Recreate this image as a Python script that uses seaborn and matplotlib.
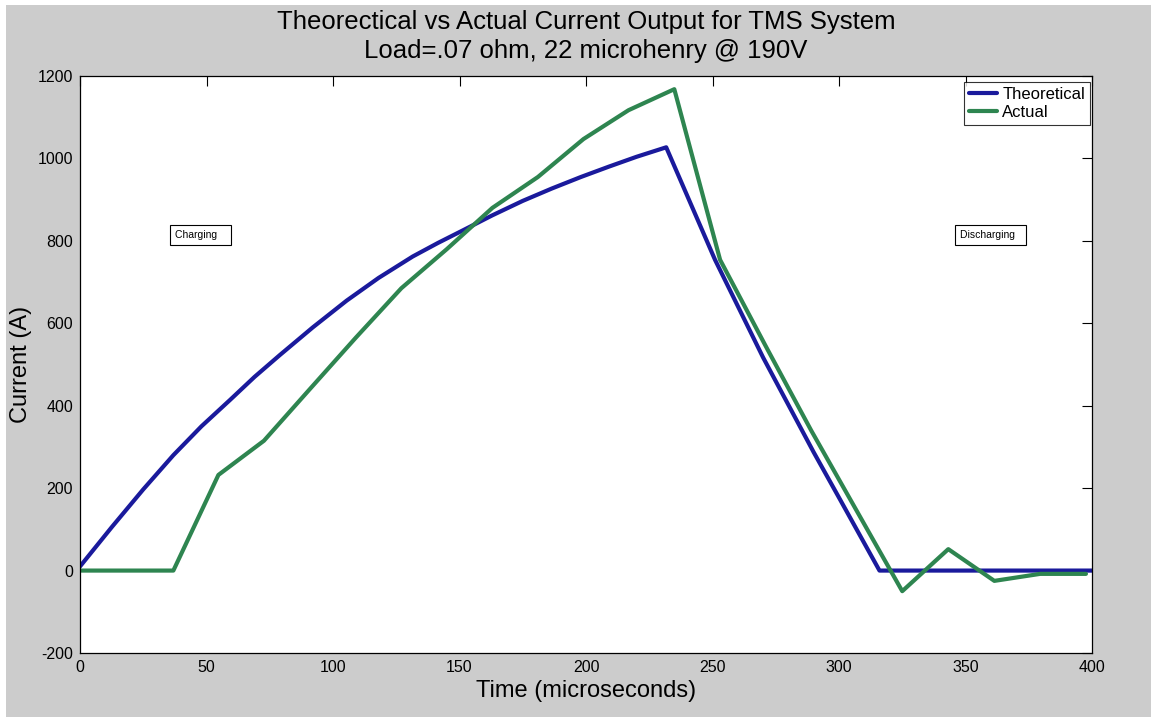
import matplotlib
matplotlib.use("Agg")
import matplotlib.pyplot as plt
from matplotlib.patches import Rectangle
import seaborn as sns
import pandas as pd

# Theoretical RL charging / discharging current (time in microseconds, current in A)
theory_time = [0, 12.5, 25, 36.9, 48, 59.3, 69, 79, 92, 105.4, 118, 131.5,
               141.5, 151.5, 163, 175, 186.5, 198, 209, 220, 231.7,
               251, 270, 290, 300, 316, 400]
theory_current = [10, 105, 197, 280, 350, 414, 470, 523, 590, 655, 710, 762,
                  795, 826, 862, 897, 927, 955, 980, 1004, 1027,
                  754, 517, 287, 177, 0, 0]

# Measured current samples
actual_time = [0, 18.1, 36.9, 54.7, 72.7, 90.8, 109, 127, 145, 163, 181, 199,
               216.8, 234.9, 253, 271, 289, 307, 325, 343.2, 361.4, 379.5, 397.6]
actual_current = [0, 0, 0, 232, 315, 440, 565, 685, 780, 880, 955, 1047,
                  1117, 1168, 754, 545, 340, 145, -50, 52, -25, -8, -8]

series_names = ["Theoretical", "Actual"]
x_ticks = [0, 50, 100, 150, 200, 250, 300, 350, 400]
y_ticks = [-200, 0, 200, 400, 600, 800, 1000, 1200]

sns.set_style("white")
plt.rcParams["font.family"] = ["Liberation Sans", "DejaVu Sans"]
plt.rcParams.update({"text.color": "black", "axes.labelcolor": "black",
                     "xtick.color": "black", "ytick.color": "black",
                     "axes.unicode_minus": False})

fig = plt.figure(figsize=(11.51, 7.17), dpi=100, facecolor="white")
fig.patches.append(Rectangle((6 / 1151, 0), 1 - 6 / 1151, 1 - 5 / 717,
                             transform=fig.transFigure, facecolor="#cccccc",
                             edgecolor="none", zorder=-10))

ax = fig.add_axes([80 / 1151, 64 / 717, 1012 / 1151, 577 / 717])
ax.set_facecolor("white")

theory_df = pd.DataFrame({"time": theory_time, "current": theory_current})
actual_df = pd.DataFrame({"time": actual_time, "current": actual_current})

sns.lineplot(data=theory_df, x="time", y="current", ax=ax, color="#1a1a9c",
             lw=3, label=series_names[0], sort=False)
sns.lineplot(data=actual_df, x="time", y="current", ax=ax, color="#2e8550",
             lw=3, label=series_names[1], sort=False)

ax.set_xlim(0, 400)
ax.set_ylim(-200, 1200)
ax.set_xticks(x_ticks)
ax.set_yticks(y_ticks)
ax.tick_params(direction="in", length=7, width=0.8, colors="black",
               labelsize=11.5, top=True, right=True, pad=5)
for s in ax.spines.values():
    s.set_color("black")
    s.set_linewidth(0.9)

ax.set_xlabel("Time (microseconds)", fontsize=17, labelpad=4)
ax.set_ylabel("Current (A)", fontsize=17, labelpad=4)
ax.set_title("Theorectical vs Actual Current Output for TMS System\n"
             "Load=.07 ohm, 22 microhenry @ 190V", fontsize=18.5, pad=13,
             linespacing=1.25)

leg = ax.legend(loc="upper right", bbox_to_anchor=(0.998, 0.99), fontsize=12,
                frameon=True, fancybox=False, edgecolor="black", borderpad=0.3,
                handlelength=1.7, handletextpad=0.3, labelspacing=0.2,
                borderaxespad=0.0)
leg.get_frame().set_linewidth(0.8)

box = dict(boxstyle="square,pad=0.5", facecolor="white", edgecolor="black", lw=0.8)
ax.text(37.5, 814, "Charging   ", fontsize=7.5, va="center", ha="left", bbox=box)
ax.text(348, 814, "Discharging  ", fontsize=7.5, va="center", ha="left", bbox=box)

fig.savefig("out.png", dpi=100, facecolor=fig.get_facecolor())
